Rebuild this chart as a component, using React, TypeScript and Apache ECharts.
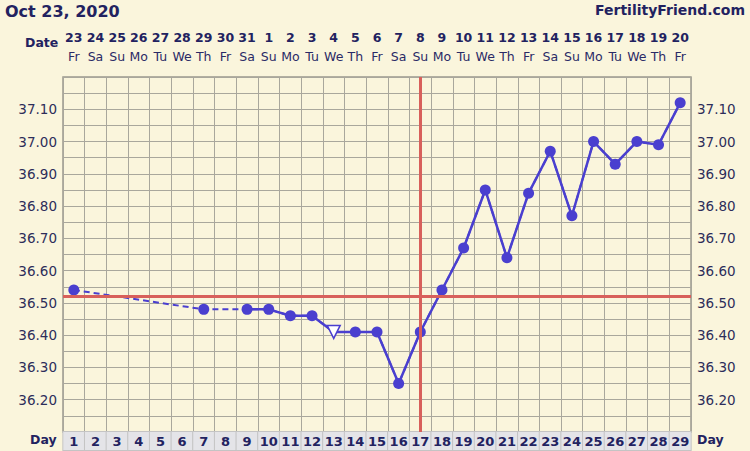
import React, { useEffect, useRef } from "react";
import * as echarts from "echarts";

const dayNumbers = ["1","2","3","4","5","6","7","8","9","10","11","12","13","14","15","16","17","18","19","20","21","22","23","24","25","26","27","28","29"];
const dates = ["23","24","25","26","27","28","29","30","31","1","2","3","4","5","6","7","8","9","10","11","12","13","14","15","16","17","18","19","20"];
const weekdays = ["Fr","Sa","Su","Mo","Tu","We","Th","Fr","Sa","Su","Mo","Tu","We","Th","Fr","Sa","Su","Mo","Tu","We","Th","Fr","Sa","Su","Mo","Tu","We","Th","Fr"];
const temps: (number | null)[] = [36.54, null, null, null, null, null, 36.48, null, 36.48, 36.48, 36.46, 36.46, 36.41, 36.41, 36.41, 36.25, 36.41, 36.54, 36.67, 36.85, 36.64, 36.84, 36.97, 36.77, 37.0, 36.93, 37.0, 36.99, 37.12];
const openMarkerDays = ["13"];
const coverline = 36.52;
const ovulationDay = "17";
const headerDate = "Oct 23, 2020";
const siteName = "FertilityFriend.com";

const NAVY = "#222260";
const FONT = "DejaVu Sans";
const LINE = "#4a3fcf";
const RED = "#d8605b";
const GRID = "#a9a79c";

export default function App() {
  const ref = useRef<HTMLDivElement>(null);
  useEffect(() => {
    if (!ref.current) return;
    const chart = echarts.init(ref.current, null, { renderer: "svg" });
    const solidData = temps.map((v, i) => {
      if (v === null) return null;
      if (openMarkerDays.includes(dayNumbers[i])) {
        return {
          value: v,
          symbol: "triangle",
          symbolRotate: 180,
          symbolSize: 13,
          itemStyle: { color: "#ffffff", borderColor: LINE, borderWidth: 1.5 },
        };
      }
      return v;
    });
    const yLabel = (v: number) => {
      const c = Math.round(v * 100);
      if (c % 10 !== 0 || c <= 3610 || c >= 3720) return "";
      return (c / 100).toFixed(2);
    };
    chart.setOption({
      animation: false,
      backgroundColor: "#faf5dc",
      textStyle: { fontFamily: FONT },
      graphic: [
        { type: "text", left: 5, top: 3, style: { text: headerDate, font: `bold 16px '${FONT}'`, fill: NAVY } },
        { type: "text", right: 5, top: 3, style: { text: siteName, font: `bold 14px '${FONT}'`, fill: NAVY } },
        { type: "text", left: 25, top: 36, style: { text: "Date", font: `bold 12.5px '${FONT}'`, fill: NAVY } },
        { type: "text", left: 30, top: 433, style: { text: "Day", font: `bold 12.5px '${FONT}'`, fill: NAVY } },
        { type: "text", left: 697, top: 433, style: { text: "Day", font: `bold 12.5px '${FONT}'`, fill: NAVY } },
      ],
      grid: {
        left: 63,
        right: 59,
        top: 77,
        bottom: 19,
        show: true,
        borderColor: "#9a988d",
        borderWidth: 1.5,
        backgroundColor: "transparent",
      },
      xAxis: [
        {
          type: "category",
          data: dayNumbers,
          position: "bottom",
          boundaryGap: true,
          axisLine: { show: false },
          axisTick: { show: false },
          splitLine: { show: true, lineStyle: { color: GRID, width: 1 } },
          axisLabel: {
            interval: 0,
            margin: 0,
            width: 21,
            height: 18,
            lineHeight: 18,
            align: "center",
            backgroundColor: "#e4e4e8",
            borderColor: "#c4c4c4",
            borderWidth: 1,
            color: NAVY,
            fontWeight: "bold",
            fontSize: 13,
            fontFamily: FONT,
          },
        },
        {
          type: "category",
          data: weekdays,
          position: "top",
          boundaryGap: true,
          axisLine: { show: false },
          axisTick: { show: false },
          axisLabel: { interval: 0, margin: 14, color: "#2a2a66", fontSize: 12.5, fontFamily: FONT },
        },
        {
          type: "category",
          data: dates,
          position: "top",
          offset: 23,
          boundaryGap: true,
          axisLine: { show: false },
          axisTick: { show: false },
          axisLabel: { interval: 0, margin: 10, color: NAVY, fontWeight: "bold", fontSize: 12.5, fontFamily: FONT },
        },
      ],
      yAxis: [
        {
          type: "value",
          min: 36.1,
          max: 37.2,
          interval: 0.05,
          position: "left",
          axisLine: { show: false },
          axisTick: { show: false },
          splitLine: { show: true, lineStyle: { color: GRID, width: 1 } },
          axisLabel: { formatter: yLabel, color: "#2d2d5a", fontSize: 13.5, fontFamily: FONT, margin: 6 },
        },
        {
          type: "value",
          min: 36.1,
          max: 37.2,
          interval: 0.05,
          position: "right",
          axisLine: { show: false },
          axisTick: { show: false },
          splitLine: { show: false },
          axisLabel: { formatter: yLabel, color: "#2d2d5a", fontSize: 13.5, fontFamily: FONT, margin: 6 },
        },
      ],
      series: [
        {
          type: "line",
          data: temps,
          connectNulls: true,
          showSymbol: false,
          symbol: "none",
          z: 2,
          lineStyle: { color: LINE, width: 2, type: [6, 4] },
          markLine: {
            silent: true,
            symbol: "none",
            label: { show: false },
            lineStyle: { color: RED, width: 3, type: "solid" },
            data: [{ yAxis: coverline }, { xAxis: ovulationDay }],
          },
        },
        {
          type: "line",
          data: solidData,
          connectNulls: false,
          symbol: "circle",
          symbolSize: 11,
          z: 3,
          lineStyle: { color: LINE, width: 2.5 },
          itemStyle: { color: LINE },
        },
      ],
    });
    return () => chart.dispose();
  }, []);
  return <div ref={ref} style={{ width: 750, height: 451, position: "fixed", left: 0, top: 0 }} />;
}
